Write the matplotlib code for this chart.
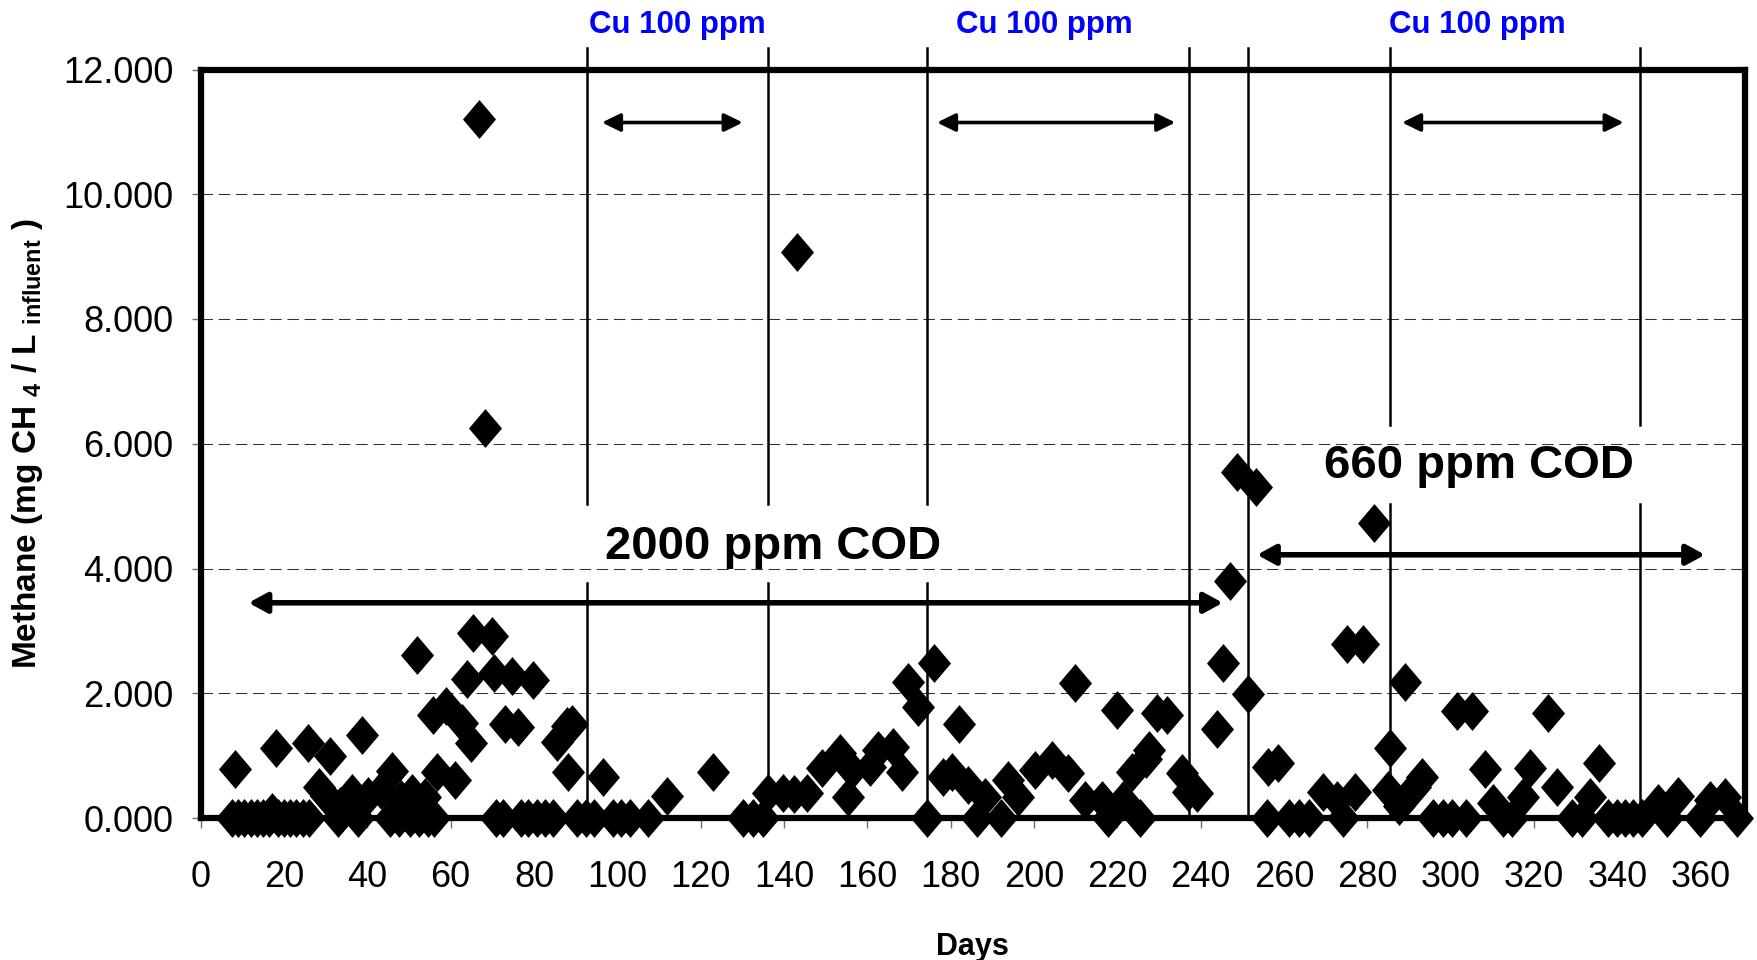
import matplotlib
matplotlib.use("Agg")
import matplotlib.pyplot as plt

plt.rcParams['font.family'] = ['Liberation Sans', 'DejaVu Sans']
plt.rcParams['mathtext.fontset'] = 'custom'
plt.rcParams['mathtext.rm'] = 'Liberation Sans:bold'
plt.rcParams['mathtext.it'] = 'Liberation Sans:bold'
plt.rcParams['mathtext.bf'] = 'Liberation Sans:bold'

# methane readings (day, mg CH4 / L influent)
days = [7.5, 8.2, 9, 10.5, 12, 13.5, 15, 16.5, 17.1, 18.0, 18.5, 20, 21.5, 23, 24.5,
        25.7, 26, 28.5, 30.1, 31.1, 33, 33.5, 36.3, 37.8, 38.8, 40.1, 43.2, 45.5,
        45.9, 47.5, 48, 50.3, 50.7, 51.9, 52.5, 53.9, 54.5, 55.8, 56, 56.7, 59.0,
        61.0, 62.7, 63.9, 65.0, 65.4, 66.7, 68.3, 69.9, 70.3, 70.9, 72.5, 73.0,
        74.7, 76.2, 77, 78.6, 79.7, 80.7, 82.6, 84.6, 85.5, 87.9, 88.2, 89.2, 90.3,
        92.4, 94.4, 96.6, 99, 101, 103, 107.4, 112.0, 123.0, 130.2, 132.6, 135,
        136.2, 139.8, 142.3, 143.0, 145.5, 149.2, 153.4, 155.4, 156.2, 160.6,
        162.6, 166.2, 168.2, 169.8, 172.2, 174.4, 176.0, 178.2, 180.2, 182.0,
        184.2, 186.4, 188.2, 192, 193.8, 196.2, 200.2, 204.2, 208.2, 209.8, 212.2,
        216.3, 217.8, 219.8, 221.4, 223.4, 225.4, 226.8, 227.6, 229.4, 231.8,
        235.4, 237.0, 239.0, 243.8, 245.3, 247.0, 248.6, 251.4, 253.2, 255.8,
        256.2, 258.6, 261.2, 263.6, 266, 269.4, 272.6, 274.2, 275.0, 277.0, 279.0,
        281.5, 285.0, 285.4, 287.6, 289.0, 291.4, 293.0, 295.8, 298.2, 300.4,
        301.4, 303.6, 305.0, 308.2, 310.2, 312.6, 314.6, 317.4, 319.0, 323.4,
        325.4, 329, 331.4, 333.4, 335.6, 337.8, 339.8, 341.8, 343.8, 345.8, 349.8,
        351.8, 354.6, 359.8, 362.2, 365.8, 368.6]
methane = [0, 0.78, 0, 0, 0, 0, 0, 0, 0.10, 1.13, 0, 0, 0, 0, 0,
           1.21, 0, 0.5, 0.35, 1.0, 0, 0.2, 0.40, 0, 1.33, 0.35, 0.45, 0,
           0.76, 0, 0.3, 0, 0.40, 2.61, 0, 0.34, 0, 1.65, 0, 0.74, 1.80,
           0.61, 1.52, 2.23, 1.20, 2.96, 11.2, 6.25, 2.92, 2.33, 0, 0, 1.51,
           2.27, 1.46, 0, 0, 2.22, 0, 0, 0, 1.22, 1.47, 0.74, 1.5, 0,
           0, 0, 0.66, 0, 0, 0, 0, 0.36, 0.74, 0, 0, 0,
           0.40, 0.40, 0.38, 9.07, 0.40, 0.80, 1.04, 0.34, 0.77, 0.82,
           1.09, 1.14, 0.74, 2.18, 1.78, 0, 2.49, 0.66, 0.74, 1.51,
           0.53, 0, 0.34, 0, 0.61, 0.34, 0.77, 0.93, 0.72, 2.16, 0.29,
           0.29, 0, 1.73, 0.29, 0.74, 0, 0.95, 1.09, 1.68, 1.65,
           0.72, 0.42, 0.40, 1.42, 2.49, 3.80, 5.55, 1.98, 5.30, 0,
           0.82, 0.88, 0, 0, 0, 0.42, 0.29, 0, 2.79, 0.42, 2.79,
           4.73, 0.45, 1.13, 0.2, 2.18, 0.5, 0.66, 0, 0, 0,
           1.71, 0, 1.71, 0.78, 0.24, 0, 0, 0.34, 0.80, 1.68,
           0.5, 0, 0, 0.34, 0.88, 0, 0, 0, 0, 0, 0.24,
           0, 0.36, 0, 0.29, 0.34, 0]

x_ticks = list(range(0, 361, 20))
y_ticks = [0, 2, 4, 6, 8, 10, 12]

# Cu dosing period boundaries and COD change
cu_lines = [92.8, 136.1, 174.3]
cu_lines_late = [285.3, 345.3]
cod_lines = [237.2, 251.3]
cu_arrows = [(96.3, 130.1), (176.7, 233.9), (288.3, 341.5)]
cu_label_x = [114.3, 202.4, 306.3]

fig = plt.figure(figsize=(17.57, 9.6), dpi=100)
ax = fig.add_axes([200.6 / 1757, 1 - 818 / 960, 1544.4 / 1757, 748.5 / 960])

ax.set_xlim(0, 370.6)
ax.set_ylim(0, 12)

ax.yaxis.grid(True, color='#303030', linewidth=0.75, linestyle=(0, (11, 5.5)), zorder=0)
ax.set_axisbelow(True)

diamond = [(0, 1), (0.85, 0), (0, -1), (-0.85, 0)]
ax.plot(days, methane, linestyle='none', marker=diamond, markersize=28,
        color='black', markeredgewidth=0, clip_on=False, zorder=4)

top = 12.35
lw_v = 1.8
for x in cu_lines:
    ax.plot([x, x], [top, 5.03], color='black', lw=lw_v, clip_on=False, zorder=3)
    ax.plot([x, x], [3.77, 0], color='black', lw=lw_v, clip_on=False, zorder=3)
for x in cu_lines_late:
    ax.plot([x, x], [top, 6.3], color='black', lw=lw_v, clip_on=False, zorder=3)
    ax.plot([x, x], [5.03, 0], color='black', lw=lw_v, clip_on=False, zorder=3)
for x in cod_lines:
    ax.plot([x, x], [top, 0], color='black', lw=lw_v, clip_on=False, zorder=3)

for (x0, x1), xl in zip(cu_arrows, cu_label_x):
    ax.annotate('', xy=(x1, 11.15), xytext=(x0, 11.15),
                arrowprops=dict(arrowstyle='<|-|>,head_length=0.55,head_width=0.27',
                                mutation_scale=20, color='black', lw=2.6,
                                shrinkA=0, shrinkB=0))
    ax.text(xl, 12.72, 'Cu 100 ppm', color='#0000FF', fontsize=22.5,
            fontweight='bold', ha='center', va='center', clip_on=False)

ax.annotate('', xy=(245.3, 3.45), xytext=(11.5, 3.45),
            arrowprops=dict(arrowstyle='<|-|>,head_length=0.55,head_width=0.3',
                            mutation_scale=20, color='black', lw=4,
                            shrinkA=0, shrinkB=0))
ax.annotate('', xy=(361.0, 4.22), xytext=(253.5, 4.22),
            arrowprops=dict(arrowstyle='<|-|>,head_length=0.55,head_width=0.3',
                            mutation_scale=20, color='black', lw=4,
                            shrinkA=0, shrinkB=0))
ax.text(137.4, 4.34, '2000 ppm COD', fontsize=34, fontweight='bold',
        ha='center', va='center', zorder=5)
ax.text(306.8, 5.64, '660 ppm COD', fontsize=34, fontweight='bold',
        ha='center', va='center', zorder=5)

for side in ['top', 'bottom', 'left', 'right']:
    ax.spines[side].set_linewidth(4.5)
    ax.spines[side].set_color('black')

ax.set_xticks(x_ticks)
ax.set_yticks(y_ticks)
ax.set_yticklabels(['%.3f' % v for v in y_ticks])
ax.tick_params(axis='x', direction='out', length=7, width=1, color='#707070',
               pad=23, labelsize=26)
ax.tick_params(axis='y', direction='out', length=6.5, width=1, color='#707070',
               pad=13, labelsize=26)

ax.set_xlabel('Days', fontsize=22, fontweight='bold')
ax.xaxis.set_label_coords(0.5, -0.152)
ax.set_ylabel(r'Methane (mg CH $_4$ / L $_{influent}$ )', fontsize=24, fontweight='bold')
ax.yaxis.set_label_coords(-0.101, 0.5)

fig.savefig('out.png', dpi=100)
